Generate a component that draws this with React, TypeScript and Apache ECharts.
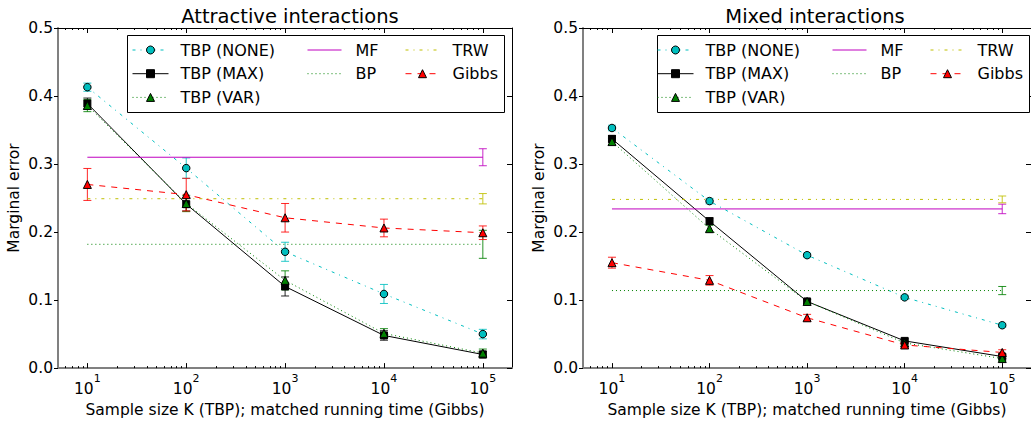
import React, { useEffect, useRef } from "react";
import * as echarts from "echarts";

// ---------- data ----------
const sampleSizes = [10, 100, 1000, 10000, 100000];
const xTickExponents = [1, 2, 3, 4, 5];
const yTickValues = [0, 0.1, 0.2, 0.3, 0.4, 0.5];
const panelTitles = ["Attractive interactions", "Mixed interactions"];

// Attractive interactions
const attrNone = [0.413, 0.294, 0.171, 0.109, 0.05];
const attrNoneErr = [0.006, 0.015, 0.014, 0.014, 0.007];
const attrMax = [0.389, 0.241, 0.12, 0.048, 0.02];
const attrMaxErr = [0.008, 0.01, 0.014, 0.007, 0.005];
const attrVar = [0.386, 0.242, 0.129, 0.051, 0.022];
const attrVarErr = [0.009, 0.012, 0.014, 0.007, 0.006];
const attrGibbs = [0.27, 0.255, 0.221, 0.206, 0.199];
const attrGibbsErr = [0.0235, 0.024, 0.021, 0.013, 0.01];

// Mixed interactions
const mixNone = [0.353, 0.2455, 0.166, 0.104, 0.063];
const mixNoneErr = [0.004, 0.004, 0.003, 0.003, 0.003];
const mixMax = [0.337, 0.216, 0.098, 0.04, 0.017];
const mixMaxErr = [0.005, 0.005, 0.003, 0.003, 0.003];
const mixVar = [0.333, 0.205, 0.098, 0.037, 0.014];
const mixVarErr = [0.005, 0.005, 0.003, 0.003, 0.003];
const mixGibbs = [0.155, 0.129, 0.074, 0.034, 0.023];
const mixGibbsErr = [0.008, 0.007, 0.005, 0.004, 0.004];

// Baselines [attractive, mixed]
const mfValue = [0.31, 0.234];
const mfErr = [0.0125, 0.007];
const bpValue = [0.182, 0.114];
const bpErr = [0.0206, 0.006];
const trwValue = [0.249, 0.248];
const trwErr = [0.0076, 0.005];

// ---------- styling ----------
const FONT = "DejaVu Sans";
const GRID_LEFT = [58, 583];
const GRID_TOP = 28;
const GRID_W = 454;
const GRID_H = 351;
const X_MIN = 0.703;
const X_MAX = 5.295;

const curveStyles = [
  { name: "TBP (NONE)", color: "#00BFBF", symbol: "circle", size: 7.5, dash: [3, 5, 1, 5] as any },
  { name: "TBP (MAX)", color: "#000000", symbol: "rect", size: 7, dash: "solid" as any },
  { name: "TBP (VAR)", color: "#008000", symbol: "triangle", size: 8, dash: [1, 3] as any },
  { name: "Gibbs", color: "#FF0000", symbol: "triangle", size: 8, dash: [6, 6] as any },
];
const baseStyles = [
  { name: "MF", color: "#BF00BF", dash: "solid" as any },
  { name: "BP", color: "#008000", dash: [1, 3] as any },
  { name: "TRW", color: "#BFBF00", dash: [3, 5, 1, 5] as any },
];

const panelCurves = [
  [
    [attrNone, attrNoneErr],
    [attrMax, attrMaxErr],
    [attrVar, attrVarErr],
    [attrGibbs, attrGibbsErr],
  ],
  [
    [mixNone, mixNoneErr],
    [mixMax, mixMaxErr],
    [mixVar, mixVarErr],
    [mixGibbs, mixGibbsErr],
  ],
];
const panelBases = [
  [mfValue, mfErr],
  [bpValue, bpErr],
  [trwValue, trwErr],
];

const majorX = xTickExponents.slice();
const minorX: number[] = [];
for (let d = 0; d <= 5; d++) {
  for (let k = 2; k <= 9; k++) {
    const v = d + Math.log10(k);
    if (v > X_MIN && v < X_MAX) minorX.push(v);
  }
}

function errorRender(color: string) {
  return (params: any, api: any) => {
    const x = api.value(0);
    const lo = api.coord([x, api.value(1)]);
    const hi = api.coord([x, api.value(2)]);
    const c = 4;
    const st = { stroke: color, lineWidth: 1, opacity: 0.85 };
    return {
      type: "group",
      children: [
        { type: "line", shape: { x1: lo[0], y1: lo[1], x2: hi[0], y2: hi[1] }, style: st },
        { type: "line", shape: { x1: lo[0] - c, y1: lo[1], x2: lo[0] + c, y2: lo[1] }, style: st },
        { type: "line", shape: { x1: hi[0] - c, y1: hi[1], x2: hi[0] + c, y2: hi[1] }, style: st },
      ],
    };
  };
}

function legendItem(name: string) {
  const c = curveStyles.find((s) => s.name === name);
  if (c) {
    return {
      name,
      itemStyle: { color: c.color, borderColor: "#000", borderWidth: 1, opacity: 1 },
      lineStyle: { color: c.color, width: 1, type: c.dash, opacity: 1 },
    };
  }
  const b = baseStyles.find((s) => s.name === name)!;
  return {
    name,
    itemStyle: { color: b.color, borderColor: b.color, borderWidth: 0, opacity: 0 },
    lineStyle: { color: b.color, width: 1, type: b.dash, opacity: 1 },
  };
}

function buildOption() {
  const grid: any[] = [];
  const xAxis: any[] = [];
  const yAxis: any[] = [];
  const series: any[] = [];
  const legend: any[] = [];
  const graphic: any[] = [];
  const title: any[] = [];
  const logK = sampleSizes.map((k) => Math.log10(k));

  for (let p = 0; p < 2; p++) {
    grid.push({ left: GRID_LEFT[p], top: GRID_TOP, width: GRID_W, height: GRID_H, containLabel: false });
    const common = { type: "value", gridIndex: p, min: X_MIN, max: X_MAX, splitLine: { show: false } };
    xAxis.push({
      ...common,
      position: "bottom",
      name: "Sample size K (TBP); matched running time (Gibbs)",
      nameLocation: "middle",
      nameGap: 25,
      nameTextStyle: { fontFamily: FONT, fontSize: 15.5, color: "#000" },
      axisLine: { show: true, onZero: false, lineStyle: { color: "#808080", width: 2 } },
      axisTick: { show: true, inside: true, length: 5, customValues: majorX, lineStyle: { color: "#000", width: 1 } },
      axisLabel: {
        show: true,
        customValues: majorX,
        margin: 5,
        formatter: (v: number) => `{b|10}{s|${Math.round(v)}}`,
        rich: {
          b: { fontFamily: FONT, fontSize: 15.5, color: "#000", lineHeight: 24, verticalAlign: "bottom" },
          s: { fontFamily: FONT, fontSize: 11, color: "#000", lineHeight: 12, verticalAlign: "top" },
        },
      },
    });
    xAxis.push({
      ...common,
      position: "bottom",
      axisLine: { show: false, onZero: false },
      axisTick: { show: true, inside: true, length: 2, customValues: minorX, lineStyle: { color: "#000", width: 1 } },
      axisLabel: { show: false },
    });
    xAxis.push({
      ...common,
      position: "top",
      axisLine: { show: true, onZero: false, lineStyle: { color: "#000", width: 1 } },
      axisTick: { show: true, inside: true, length: 5, customValues: majorX, lineStyle: { color: "#000", width: 1 } },
      axisLabel: { show: false },
    });
    xAxis.push({
      ...common,
      position: "top",
      axisLine: { show: false, onZero: false },
      axisTick: { show: true, inside: true, length: 2, customValues: minorX, lineStyle: { color: "#000", width: 1 } },
      axisLabel: { show: false },
    });

    yAxis.push({
      type: "value",
      gridIndex: p,
      min: 0,
      max: 0.5,
      interval: 0.1,
      position: "left",
      name: "Marginal error",
      nameLocation: "middle",
      nameGap: 36,
      nameTextStyle: { fontFamily: FONT, fontSize: 15.5, color: "#000" },
      splitLine: { show: false },
      axisLine: { show: true, onZero: false, lineStyle: { color: "#808080", width: 2 } },
      axisTick: { show: true, inside: false, length: 4, lineStyle: { color: "#000" } },
      axisLabel: {
        show: true,
        margin: 5,
        fontFamily: FONT,
        fontSize: 15.5,
        color: "#000",
        formatter: (v: number) => v.toFixed(1),
      },
    });
    yAxis.push({
      type: "value",
      gridIndex: p,
      min: 0,
      max: 0.5,
      interval: 0.1,
      position: "right",
      splitLine: { show: false },
      axisLine: { show: true, onZero: false, lineStyle: { color: "#000", width: 1 } },
      axisTick: { show: true, inside: true, length: 5, lineStyle: { color: "#000" } },
      axisLabel: { show: false },
    });

    const xi = p * 4;
    const yi = p * 2;

    const addCurve = (ci: number) => {
      const st = curveStyles[ci];
      const [vals, errs] = panelCurves[p][ci];
      series.push({
        name: st.name,
        type: "line",
        xAxisIndex: xi,
        yAxisIndex: yi,
        data: logK.map((x, i) => [x, vals[i]]),
        symbol: st.symbol,
        symbolSize: st.size,
        showSymbol: true,
        color: st.color,
        itemStyle: { color: st.color, borderColor: "#000", borderWidth: 1 },
        lineStyle: { color: st.color, width: 1, type: st.dash },
        z: 4,
        silent: true,
      });
      series.push({
        name: st.name,
        type: "custom",
        xAxisIndex: xi,
        yAxisIndex: yi,
        color: st.color,
        renderItem: errorRender(st.color),
        itemStyle: { color: st.color },
        data: logK.map((x, i) => [x, vals[i] - errs[i], vals[i] + errs[i]]),
        encode: { x: 0, y: [1, 2] },
        z: 3,
        silent: true,
      });
    };
    const addBase = (bi: number) => {
      const st = baseStyles[bi];
      const [vals, errs] = panelBases[bi];
      const v = vals[p];
      const e = errs[p];
      series.push({
        name: st.name,
        type: "line",
        xAxisIndex: xi,
        yAxisIndex: yi,
        data: [
          [logK[0], v],
          [logK[logK.length - 1], v],
        ],
        symbol: "none",
        color: st.color,
        itemStyle: { color: st.color },
        lineStyle: { color: st.color, width: 1, type: st.dash },
        z: 4,
        silent: true,
      });
      series.push({
        name: st.name,
        type: "custom",
        xAxisIndex: xi,
        yAxisIndex: yi,
        color: st.color,
        renderItem: errorRender(st.color),
        itemStyle: { color: st.color },
        data: [[logK[logK.length - 1], v - e, v + e]],
        encode: { x: 0, y: [1, 2] },
        z: 3,
        silent: true,
      });
    };
    addCurve(0);
    addCurve(1);
    addCurve(2);
    addBase(0);
    addBase(1);
    addBase(2);
    addCurve(3);

    title.push({
      text: panelTitles[p],
      left: GRID_LEFT[p] + GRID_W / 2,
      top: 1,
      textAlign: "center",
      textStyle: { fontFamily: FONT, fontSize: 19.5, fontWeight: "normal", color: "#000" },
    });

    const off = p === 0 ? 0 : 525;
    const cols = [
      { names: ["TBP (NONE)", "TBP (MAX)", "TBP (VAR)"], left: 132, w: 36, pad: 7 },
      { names: ["MF", "BP"], left: 307, w: 34, pad: 9 },
      { names: ["TRW", "Gibbs"], left: 405, w: 34, pad: 8 },
    ];
    cols.forEach((c) => {
      legend.push({
        orient: "vertical",
        left: c.left + off,
        top: 42,
        itemGap: 7.7,
        itemWidth: c.w,
        itemHeight: 10,
        selectedMode: false,
        z: 6,
        padding: 0,
        data: c.names.map((n) => legendItem(n)),
        textStyle: { fontFamily: FONT, fontSize: 16, color: "#000", lineHeight: 16, padding: [0, 0, 0, c.pad] },
      });
    });
    const box = p === 0 ? { x: 127, w: 377 } : { x: 657, w: 372 };
    graphic.push({
      type: "rect",
      shape: { x: box.x + 0.5, y: 35.5, width: box.w, height: 77 },
      style: { fill: "#fff", stroke: "#000", lineWidth: 1 },
      z: 5,
      silent: true,
    });
  }

  return {
    animation: false,
    backgroundColor: "#fff",
    title,
    grid,
    xAxis,
    yAxis,
    series,
    legend,
    graphic,
  };
}

export default function App() {
  const ref = useRef<HTMLDivElement>(null);
  useEffect(() => {
    if (!ref.current) return;
    const chart = echarts.init(ref.current, undefined, { renderer: "svg" });
    chart.setOption(buildOption() as any);
    return () => chart.dispose();
  }, []);
  return (
    <div
      ref={ref}
      style={{ position: "fixed", left: 0, top: 0, width: 1031, height: 423, background: "#fff" }}
    />
  );
}
